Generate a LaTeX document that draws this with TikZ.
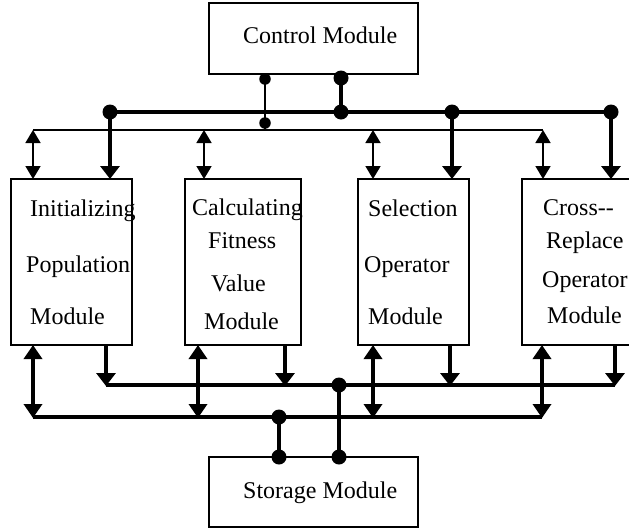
\documentclass[tikz,border=0pt]{standalone}
\usepackage{fontspec}
\setmainfont{Liberation Serif}
\usetikzlibrary{arrows.meta}
\begin{document}
\begin{tikzpicture}[x=1pt,y=-1pt,
  box/.style={draw, line width=1.8pt, inner sep=0pt, outer sep=0pt, anchor=north west},
  lbl/.style={anchor=base west, inner sep=0pt, font=\fontsize{24}{28}\selectfont},
  thinwire/.style={line width=1.8pt},
  heavywire/.style={line width=4.4pt},
  buswire/.style={line width=4.2pt},
  thinboth/.style={line width=1.8pt, {Triangle[width=15pt,length=13pt]}-{Triangle[width=15pt,length=13pt]}},
  heavydown/.style={line width=4.4pt, -{Triangle[width=19pt,length=13pt]}},
  heavyboth/.style={line width=4.4pt, {Triangle[width=18pt,length=14pt]}-{Triangle[width=18pt,length=14pt]}},
  smalldot/.style={circle, fill, inner sep=0pt, minimum size=11.5pt},
  bigdot/.style={circle, fill, inner sep=0pt, minimum size=15pt},
]
\useasboundingbox (0,0) rectangle (629,528);
\clip (0,0) rectangle (629,528);

% modules
\node[box, minimum width=209pt, minimum height=71pt] (ctrl) at (209,3) {};
\node[box, minimum width=121pt, minimum height=166pt] (b1) at (11,179) {};
\node[box, minimum width=116pt, minimum height=166pt] (b2) at (185,179) {};
\node[box, minimum width=111pt, minimum height=166pt] (b3) at (358,179) {};
\node[box, minimum width=120pt, minimum height=166pt] (b4) at (522,179) {};
\node[box, minimum width=209pt, minimum height=70pt] (store) at (209,457) {};

% labels
\node[lbl] (tc) at (243,43) {Control Module};
\node[lbl] (ts) at (243,498) {Storage Module};
\node[lbl] (t11) at (30,216) {Initializing};
\node[lbl] (t12) at (26,272) {Population};
\node[lbl] (t13) at (30,324) {Module};
\node[lbl] (t21) at (192,215) {Calculating};
\node[lbl] (t22) at (208,248) {Fitness};
\node[lbl] (t23) at (211,291) {Value};
\node[lbl] (t24) at (204,329) {Module};
\node[lbl] (t31) at (368,216) {Selection};
\node[lbl] (t32) at (364,272) {Operator};
\node[lbl] (t33) at (368,324) {Module};
\node[lbl] (t41) at (543,215) {Cross-{}-};
\node[lbl] (t42) at (546,248) {Replace};
\node[lbl] (t43) at (542,287) {Operator};
\node[lbl] (t44) at (547,323) {Module};

% upper buses
\coordinate (tl) at (33,130);
\coordinate (tr) at (543,130);
\coordinate (ta2) at (204,130);
\coordinate (ta3) at (373,130);
\draw[thinwire] (tl) -- (tr);
\node[bigdot] (h1) at (110,112) {};
\node[bigdot] (hc) at (341,112) {};
\node[bigdot] (h3) at (452,112) {};
\node[bigdot] (h4) at (611,112) {};
\draw[heavywire] (h1.center) -- (h4.center);

% control module taps
\node[smalldot] (ct1) at (265,79) {};
\node[smalldot] (ct2) at (265,123) {};
\draw[thinwire] (ct1.center) -- (ct1.center |- tl);
\node[bigdot] (ch) at (341,78) {};
\draw[heavywire] (ch.center) -- (hc.center);

% upper arrows into the modules
\draw[thinboth] (tl) -- (tl |- b1.north);
\draw[thinboth] (ta2) -- (ta2 |- b2.north);
\draw[thinboth] (ta3) -- (ta3 |- b3.north);
\draw[thinboth] (tr) -- (tr |- b4.north);
\draw[heavydown] (h1.center) -- (h1.center |- b1.north);
\draw[heavydown] (h3.center) -- (h3.center |- b3.north);
\draw[heavydown] (h4.center) -- (h4.center |- b4.north);

% lower buses
\coordinate (ml) at (106,385);
\coordinate (mr) at (615,385);
\coordinate (m2) at (285,385);
\coordinate (m3) at (450,385);
\coordinate (ll) at (33,417);
\coordinate (lr) at (542,417);
\coordinate (l2) at (198,417);
\coordinate (l3) at (373,417);
\draw[buswire] (ml) -- (mr);
\draw[buswire] (ll) -- (lr);

% arrows out of the modules
\draw[heavyboth] (b1.south -| ll) -- ([yshift=-1pt]ll);
\draw[heavyboth] (b2.south -| l2) -- ([yshift=-1pt]l2);
\draw[heavyboth] (b3.south -| l3) -- ([yshift=-1pt]l3);
\draw[heavyboth] (b4.south -| lr) -- ([yshift=-1pt]lr);
\draw[heavydown] (b1.south -| ml) -- ([yshift=-1pt]ml);
\draw[heavydown] (b2.south -| m2) -- ([yshift=-1pt]m2);
\draw[heavydown] (b3.south -| m3) -- ([yshift=-1pt]m3);
\draw[heavydown] (b4.south -| mr) -- ([yshift=-1pt]mr);

% storage module taps
\node[bigdot] (sm) at (339,385) {};
\node[bigdot] (sl) at (279,417) {};
\node[bigdot] (s1) at (279,457) {};
\node[bigdot] (s2) at (339,457) {};
\draw[heavywire] (sl.center) -- (s1.center);
\draw[heavywire] (sm.center) -- (s2.center);
\end{tikzpicture}
\end{document}
